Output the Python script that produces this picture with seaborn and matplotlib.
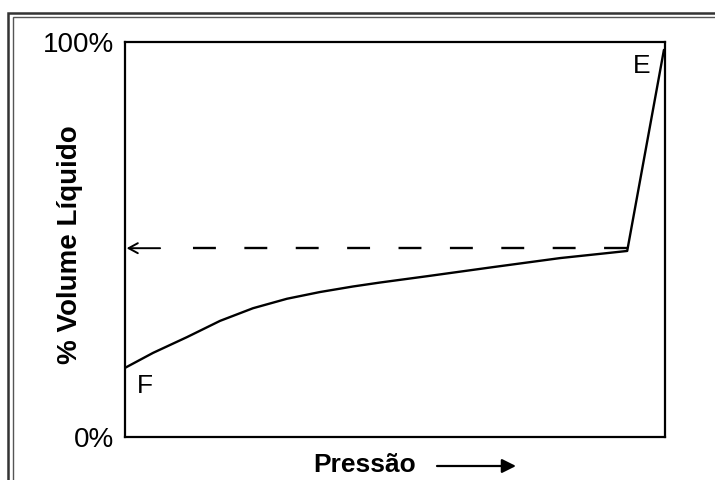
import matplotlib
matplotlib.use("Agg")
import matplotlib.pyplot as plt
import seaborn as sns
import pandas as pd
from matplotlib.patches import Rectangle, FancyArrowPatch

# Data (pressure in arbitrary units 0..100, % liquid volume)
pressure = [0.0, 5.2, 11.5, 17.6, 23.7, 30.0, 36.1, 42.2, 47.2, 55.9, 68.1, 80.6, 88.9, 93.0, 99.8]
liquid_pct = [17.5, 21.3, 25.3, 29.4, 32.6, 35.0, 36.7, 38.1, 39.1, 40.7, 43.0, 45.3, 46.5, 47.1, 98.0]
dashed_level = 47.8
dashed_x = [93.0, 11.6]
ytick_vals = [0, 100]
ytick_labels = ["0%", "100%"]
point_labels = ["F", "E"]

sns.set_theme(style="white")
plt.rcParams["font.family"] = ["Liberation Sans", "DejaVu Sans"]
plt.rcParams["lines.scale_dashes"] = False
plt.rcParams["text.color"] = "black"
plt.rcParams["axes.labelcolor"] = "black"
plt.rcParams["ytick.color"] = "black"

fig = plt.figure(figsize=(7.15, 4.8), dpi=100)
ax = fig.add_axes([125 / 715, 1 - 437 / 480, (665 - 125) / 715, (437 - 42) / 480])

df = pd.DataFrame({"Pressão": pressure, "Volume": liquid_pct})
sns.lineplot(data=df, x="Pressão", y="Volume", ax=ax, color="black", lw=1.7, sort=False)

dash_df = pd.DataFrame({"x": dashed_x, "y": [dashed_level] * len(dashed_x)})
sns.lineplot(data=dash_df, x="x", y="y", ax=ax, color="black", lw=1.7,
             sort=False, linestyle=(0, (16.5, 20.5)))
ax.annotate("", xy=(0.3, dashed_level), xytext=(6.5, dashed_level),
            arrowprops=dict(arrowstyle="->,head_length=0.55,head_width=0.3",
                            color="black", lw=1.4, shrinkA=0, shrinkB=0))

ax.set_xlim(0, 100)
ax.set_ylim(0, 100)
ax.set_xticks([])
ax.set_yticks(ytick_vals)
ax.set_yticklabels(ytick_labels, fontsize=20)
ax.tick_params(axis="y", length=0, pad=8)
ax.set_xlabel("")
ax.set_ylabel("% Volume Líquido", fontsize=20, fontweight="bold")
ax.yaxis.set_label_coords((83 - 125) / 540, (437 - 245) / 395)
for s in ax.spines.values():
    s.set_visible(True)
    s.set_color("black")
    s.set_linewidth(1.6)

ax.text(pressure[0] + 2.2, liquid_pct[0] - 1.5, point_labels[0], fontsize=19,
        ha="left", va="top")
ax.text(pressure[-1] - 2.5, liquid_pct[-1] - 1.0, point_labels[1], fontsize=19,
        ha="right", va="top")

fig.text(365 / 715, 1 - 465 / 480, "Pressão", fontsize=19, fontweight="bold",
         ha="center", va="center")
fig.patches.append(FancyArrowPatch(
    (437 / 715, 1 - 466 / 480), (516 / 715, 1 - 466 / 480),
    transform=fig.transFigure, arrowstyle="-|>,head_length=0.6,head_width=0.3",
    color="black", lw=1.6, shrinkA=0, shrinkB=0, mutation_scale=14))

# double frame around the picture
fig.patches.append(Rectangle((8 / 715, -0.2), 1.2, (1 - 13 / 480) + 0.2,
                             transform=fig.transFigure, fill=False,
                             edgecolor="#333333", lw=1.8))
fig.patches.append(Rectangle((12.5 / 715, -0.2), 1.2, (1 - 17 / 480) + 0.2,
                             transform=fig.transFigure, fill=False,
                             edgecolor="#555555", lw=1.0))

fig.savefig("out.png", dpi=100)
